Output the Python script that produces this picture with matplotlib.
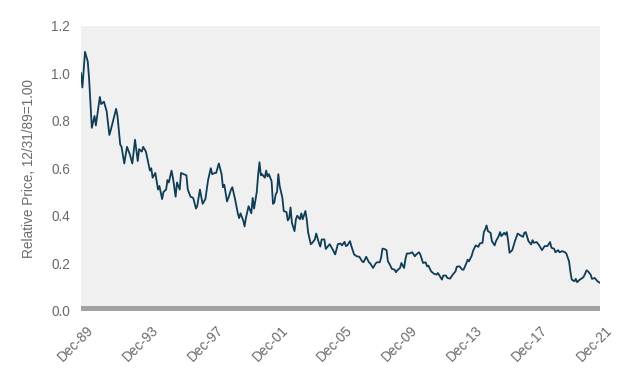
import matplotlib
matplotlib.use('Agg')
import matplotlib.pyplot as plt
import matplotlib.dates as mdates
import matplotlib.transforms as mtransforms
import pandas as pd

# months after Dec-89, and relative price
months = [0, 1, 3, 5, 6, 8, 10, 11, 14, 15, 17, 19, 21, 22, 26, 27, 29, 30, 32, 34,
          36, 38, 40, 42, 43, 45, 46, 48, 51, 52, 53, 55, 57, 58, 60, 61, 63, 64, 65, 67,
          68, 70, 71, 73, 74, 76, 78, 79, 81, 83, 85, 86, 88, 90, 92, 94, 96, 97, 99, 100,
          102, 104, 105, 106, 108, 109, 111, 112, 114, 116, 117, 118, 120, 121, 122, 124, 126, 127, 128, 130,
          131, 132, 133, 134, 136, 137, 138, 139, 141, 142, 143, 144, 145, 146, 147, 149, 150, 152, 153, 154,
          155, 156, 158, 159, 160, 162, 163, 164, 166, 167, 168, 170, 171, 173, 174, 176, 177, 178, 180, 181,
          184, 186, 188, 190, 192, 193, 195, 196, 197, 199, 200, 202, 204, 206, 208, 209, 211, 213, 214, 216,
          218, 219, 221, 222, 223, 224, 226, 227, 228, 230, 232, 233, 234, 236, 237, 239, 240, 241, 243, 245,
          247, 248, 250, 251, 253, 255, 256, 257, 259, 261, 263, 264, 267, 268, 270, 271, 273, 275, 277, 278,
          280, 282, 283, 285, 286, 287, 289, 290, 292, 294, 295, 297, 298, 299, 300, 301, 303, 304, 306, 307,
          309, 310, 311, 313, 314, 315, 316, 317, 319, 321, 323, 325, 327, 328, 329, 331, 333, 334, 335, 337,
          339, 341, 343, 345, 347, 348, 350, 351, 353, 354, 356, 358, 359, 361, 362, 363, 365, 366, 367, 369,
          371, 372, 374, 375, 377, 378, 380, 382, 384]
price = [1.00, 0.94, 1.09, 1.05, 0.98, 0.77, 0.82, 0.78, 0.90, 0.87, 0.88, 0.84, 0.74, 0.76, 0.85, 0.82, 0.70, 0.69, 0.62, 0.69,
         0.66, 0.62, 0.72, 0.63, 0.68, 0.67, 0.69, 0.67, 0.59, 0.60, 0.56, 0.58, 0.51, 0.525, 0.47, 0.50, 0.51, 0.55, 0.54, 0.59,
         0.56, 0.48, 0.54, 0.51, 0.58, 0.575, 0.57, 0.51, 0.48, 0.475, 0.43, 0.44, 0.51, 0.45, 0.47, 0.55, 0.60, 0.575, 0.58, 0.58,
         0.62, 0.575, 0.52, 0.53, 0.46, 0.475, 0.51, 0.52, 0.47, 0.41, 0.39, 0.41, 0.38, 0.355, 0.39, 0.44, 0.41, 0.475, 0.43, 0.50,
         0.57, 0.625, 0.57, 0.575, 0.56, 0.59, 0.565, 0.575, 0.545, 0.45, 0.455, 0.49, 0.50, 0.575, 0.525, 0.475, 0.42, 0.415, 0.38, 0.39,
         0.435, 0.37, 0.335, 0.385, 0.40, 0.385, 0.41, 0.385, 0.42, 0.385, 0.33, 0.28, 0.285, 0.30, 0.325, 0.285, 0.27, 0.30, 0.30, 0.26,
         0.28, 0.26, 0.237, 0.28, 0.283, 0.275, 0.29, 0.272, 0.275, 0.293, 0.272, 0.237, 0.229, 0.227, 0.208, 0.204, 0.227, 0.204, 0.199, 0.18,
         0.199, 0.204, 0.204, 0.223, 0.261, 0.261, 0.255, 0.208, 0.199, 0.176, 0.173, 0.162, 0.17, 0.18, 0.201, 0.18, 0.218, 0.241, 0.241, 0.246,
         0.229, 0.237, 0.246, 0.237, 0.201, 0.204, 0.187, 0.19, 0.166, 0.156, 0.152, 0.159, 0.131, 0.148, 0.148, 0.138, 0.135, 0.152, 0.166, 0.185,
         0.187, 0.173, 0.173, 0.199, 0.215, 0.208, 0.232, 0.251, 0.275, 0.269, 0.283, 0.286, 0.331, 0.342, 0.359, 0.335, 0.328, 0.293, 0.275, 0.293,
         0.314, 0.331, 0.314, 0.328, 0.32, 0.331, 0.293, 0.244, 0.255, 0.293, 0.325, 0.317, 0.311, 0.328, 0.331, 0.293, 0.279, 0.297, 0.286, 0.289,
         0.275, 0.255, 0.272, 0.272, 0.289, 0.265, 0.261, 0.246, 0.255, 0.246, 0.251, 0.246, 0.241, 0.208, 0.166, 0.131, 0.124, 0.134, 0.12, 0.131,
         0.138, 0.145, 0.17, 0.166, 0.152, 0.134, 0.138, 0.124, 0.117]

tick_months = [0, 48, 96, 144, 192, 240, 288, 336, 384]
y_ticks = [0.0, 0.2, 0.4, 0.6, 0.8, 1.0, 1.2]

month_ends = pd.date_range('1989-12-31', periods=385, freq='ME')
dates = month_ends[months]

plt.rcParams['font.family'] = ['Liberation Sans', 'DejaVu Sans']
text_col = '#6a6a6a'

fig = plt.figure(figsize=(6.3, 3.78), dpi=100)
ax = fig.add_axes([0.1286, 0.178, 0.824, 0.754])
ax.set_facecolor('#f0f0f0')

ax.plot(dates, price, color='#0f3d56', lw=1.3, zorder=3)

ax.set_xlim(month_ends[0], month_ends[384])
ax.set_ylim(0, 1.2)
ax.axhspan(0, 0.021, color='#a2a3a1', lw=0, zorder=4)

ax.set_yticks(y_ticks)
ax.set_yticklabels(['%.1f' % v for v in y_ticks])
ax.set_xticks(month_ends[tick_months])
ax.xaxis.set_major_formatter(mdates.DateFormatter('%b-%y'))

ax.tick_params(axis='both', length=0, labelsize=9.8, labelcolor=text_col)
ax.tick_params(axis='y', pad=8)
ax.tick_params(axis='x', pad=9)
offset = mtransforms.ScaledTranslation(5 / 100, 0, fig.dpi_scale_trans)
for lab in ax.get_xticklabels():
    lab.set_rotation(45)
    lab.set_ha('right')
    lab.set_rotation_mode('anchor')
    lab.set_transform(lab.get_transform() + offset)

for s in ax.spines.values():
    s.set_visible(False)

ax.set_ylabel('Relative Price, 12/31/89=1.00', fontsize=9.8, color=text_col, labelpad=11)

fig.savefig('out.png', dpi=100)
